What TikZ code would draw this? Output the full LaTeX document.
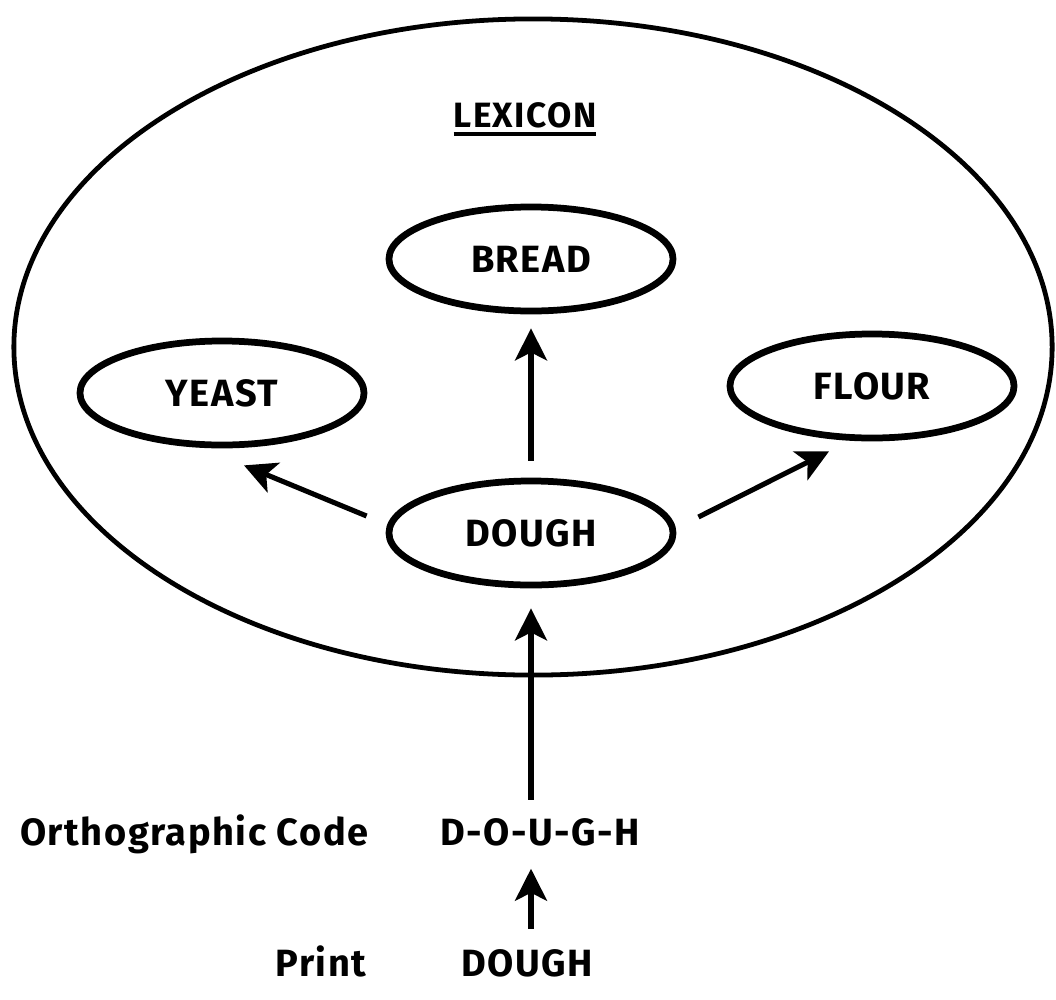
\documentclass[tikz,border=0pt]{standalone}
\usepackage{fontspec}
\setmainfont{Fira Sans}
\newfontfamily\labelfont[LetterSpace=4]{Fira Sans}
\usepackage{tikz}
\usetikzlibrary{arrows.meta,shapes.geometric,positioning}
\newcommand\thickul[1]{\vtop{\hbox{#1}\kern3pt\hrule height 3pt}}
\tikzset{
  every node/.style={font=\labelfont\bfseries\fontsize{27}{30}\selectfont},
  entry/.style={draw,ellipse,line width=4.8pt,minimum width=7.1cm,
                minimum height=2.6cm,inner sep=0pt},
  store/.style={draw,ellipse,line width=3.4pt,minimum width=25.95cm,
                minimum height=16.4cm},
  lab/.style={inner sep=0pt},
  ar/.style={-{Stealth[length=0.8cm,width=0.8cm,inset=0.2cm]},line width=3.6pt},
}

\begin{document}
\begin{tikzpicture}[x=0.025cm,y=-0.025cm]
\useasboundingbox (0,0) rectangle (1056,999);
\node[store] (lexicon) at (533,347) {};
\node[lab,anchor=base,font=\labelfont\bfseries\fontsize{25}{28}\selectfont] (title) at (525,127) {\thickul{LEXICON}};
\node[entry] (bread) at (531,259) {BREAD};
\node[entry] (yeast) at (222,393) {YEAST};
\node[entry] (flour) at (872,386) {FLOUR};
\node[entry] (dough) at (531,533) {DOUGH};
\node[lab,anchor=base west] (codelab) at (20,845) {Orthographic Code};
\node[lab,anchor=base] (code) at (540,845) {D-O-U-G-H};
\node[lab,anchor=base] (printlab) at (321,976) {Print};
\node[lab,anchor=base] (word) at (527,976) {DOUGH};
\draw[ar,shorten <=0.42cm,shorten >=0.35cm] (dough.north) -- (bread.south);
\draw[ar] ([shift={(-19,-17)}]dough.west) -- ([shift={(22,17)}]yeast.south);
\draw[ar] ([shift={(22,-16)}]dough.east) -- ([shift={(-43,10)}]flour.south);
\draw[ar,shorten <=0.45cm,shorten >=0.5cm] (code.north -| dough.south) -- (dough.south);
\draw[ar,shorten <=0.5cm,shorten >=0.57cm] (word.north -| dough.south) -- (code.south -| dough.south);
\end{tikzpicture}
\end{document}
